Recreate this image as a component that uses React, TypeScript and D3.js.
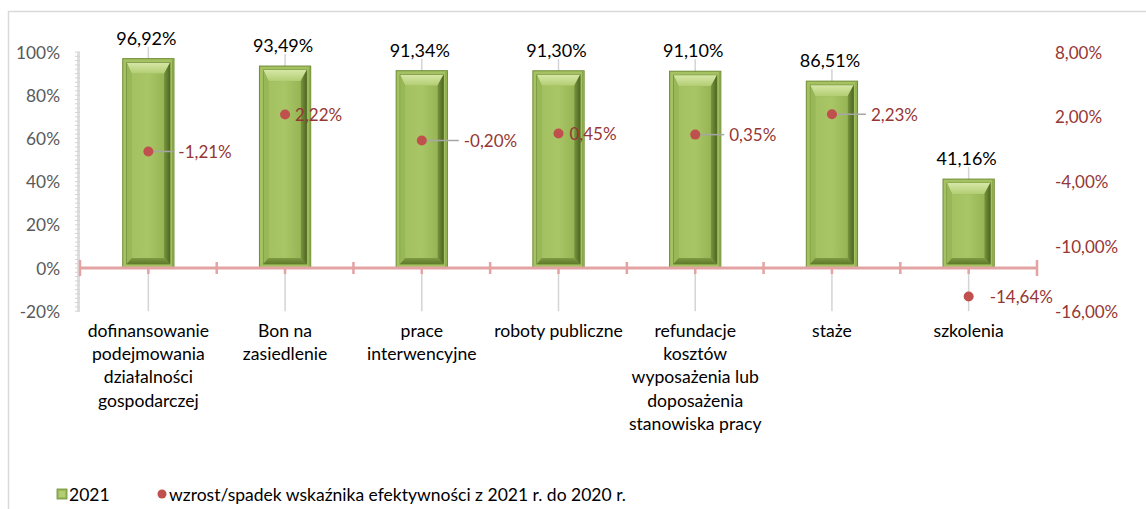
import React from "react";
import * as d3 from "d3";

const categories = [
  "dofinansowanie\npodejmowania\ndziałalności\ngospodarczej",
  "Bon na\nzasiedlenie",
  "prace\ninterwencyjne",
  "roboty publiczne",
  "refundacje\nkosztów\nwyposażenia lub\ndoposażenia\nstanowiska pracy",
  "staże",
  "szkolenia",
];
const values2021 = [96.92, 93.49, 91.34, 91.3, 91.1, 86.51, 41.16];
const changeValues = [-1.21, 2.22, -0.2, 0.45, 0.35, 2.23, -14.64];
const leftTicks = [-20, 0, 20, 40, 60, 80, 100];
const rightTicks = [-16, -10, -4, 2, 8];
const legendBar = "2021";
const legendDot = "wzrost/spadek wskaźnika efektywności z 2021 r. do 2020 r.";
// label offsets (layout) for the change-point labels
const pointLabelDx = [30, 10, 42, 11, 34, 39, 21];
const pointLeader = [true, false, true, false, true, true, false];

const W = 1146;
const H = 509;
const FONT = "Lato, 'Open Sans', sans-serif";

const fmtPct = (v: number, digits: number) =>
  v.toFixed(digits).replace(".", ",") + "%";

export default function App() {
  const x = d3.scaleBand<string>().domain(categories).range([80, 1037]).padding(0);
  const yL = d3.scaleLinear().domain([-20, 100]).range([311.2, 52]);
  const yR = d3.scaleLinear().domain([-16, 8]).range([311.2, 52]);
  const bw = x.bandwidth();
  const barW = bw * 0.375;
  const y0 = yL(0);

  const minorTicks = d3.range(-20, 100.01, 2);

  return (
    <svg width={W} height={H} style={{ position: "absolute", left: 0, top: 0, fontFamily: FONT }}>
      <defs>
        <linearGradient id="face" x1="0" x2="1" y1="0" y2="0">
          <stop offset="0" stopColor="#a3c160" />
          <stop offset="0.5" stopColor="#a8c665" />
          <stop offset="1" stopColor="#97b555" />
        </linearGradient>
        <linearGradient id="topBevel" x1="0" x2="0" y1="0" y2="1">
          <stop offset="0" stopColor="#d6e7a6" />
          <stop offset="1" stopColor="#b2cd72" />
        </linearGradient>
        <linearGradient id="botBevel" x1="0" x2="0" y1="0" y2="1">
          <stop offset="0" stopColor="#7f9a42" />
          <stop offset="1" stopColor="#5f7a2a" />
        </linearGradient>
        <linearGradient id="rightBevel" x1="0" x2="1" y1="0" y2="0">
          <stop offset="0" stopColor="#7a963f" />
          <stop offset="1" stopColor="#4e6622" />
        </linearGradient>
      </defs>
      <rect x={0} y={0} width={W} height={H} fill="#fff" />
      <rect x={8.5} y={11.5} width={W} height={H} fill="none" stroke="#d9d9d9" strokeWidth={1.5} />

      {/* left axis */}
      <line x1={78.5} x2={78.5} y1={yL(100)} y2={yL(-20)} stroke="#dedede" strokeWidth={3} />
      {minorTicks.map((t) => (
        <line key={"m" + t} x1={75} x2={80} y1={yL(t)} y2={yL(t)} stroke="#d4d4d4" strokeWidth={1} />
      ))}
      {leftTicks.map((t) => (
        <text key={"l" + t} x={60} y={yL(t)} textAnchor="end" dominantBaseline="central" fontSize={17.3} fill="#595959">
          {t + "%"}
        </text>
      ))}
      {rightTicks.map((t) => (
        <text key={"r" + t} x={1055} y={yR(t)} textAnchor="start" dominantBaseline="central" fontSize={17} fill="#953735">
          {fmtPct(t, 2)}
        </text>
      ))}

      {/* gray vertical lines */}
      {categories.map((c, i) => {
        const cx = (x(c) as number) + bw / 2;
        return (
          <line key={"g" + i} x1={cx} x2={cx} y1={yL(values2021[i]) - 12} y2={yL(-20)} stroke="#d4d4d4" strokeWidth={1.5} />
        );
      })}

      {/* bars */}
      {categories.map((c, i) => {
        const cx = (x(c) as number) + bw / 2;
        const bx = cx - barW / 2;
        const by = yL(values2021[i]);
        const bh = y0 - by;
        const o = 4; // rim
        const ix0 = bx + o, ix1 = bx + barW - o, iy0 = by + o, iy1 = by + bh - o;
        const fx0 = ix0 + 5, fx1 = ix1 - 6, fy0 = iy0 + 11, fy1 = iy1 - 6;
        const poly = (pts: number[][]) => pts.map((p) => p.join(",")).join(" ");
        return (
          <g key={"b" + i}>
            <rect x={bx} y={by} width={barW} height={bh} fill="#a4c262" stroke="#6f8b33" strokeWidth={1} />
            <rect x={ix0} y={iy0} width={ix1 - ix0} height={iy1 - iy0} fill="#8fae4e" stroke="#5f7a2a" strokeWidth={0.8} />
            <polygon points={poly([[ix0, iy0], [ix1, iy0], [fx1, fy0], [fx0, fy0]])} fill="url(#topBevel)" />
            <polygon points={poly([[ix0, iy0], [fx0, fy0], [fx0, fy1], [ix0, iy1]])} fill="#98b756" />
            <polygon points={poly([[ix1, iy0], [ix1, iy1], [fx1, fy1], [fx1, fy0]])} fill="url(#rightBevel)" />
            <polygon points={poly([[ix0, iy1], [fx0, fy1], [fx1, fy1], [ix1, iy1]])} fill="url(#botBevel)" />
            <rect x={fx0} y={fy0} width={fx1 - fx0} height={fy1 - fy0} fill="url(#face)" />
            <line x1={bx + barW - 1.5} x2={bx + barW - 1.5} y1={by + 1} y2={by + bh - 1} stroke="#86a345" strokeWidth={1} />
            <text x={cx - 2} y={by - 21} textAnchor="middle" dominantBaseline="central" fontSize={18} fill="#000">
              {fmtPct(values2021[i], 2)}
            </text>
          </g>
        );
      })}

      {/* x axis */}
      <line x1={80} x2={1037} y1={y0} y2={y0} stroke="#e4a3a3" strokeWidth={3} />
      {d3.range(categories.length + 1).map((k) => {
        const xx = 80 + k * bw;
        const end = k === 0 || k === categories.length;
        return (
          <line key={"bt" + k} x1={xx} x2={xx} y1={y0 - (end ? 8 : 6)} y2={y0 + (end ? 8 : 6)} stroke="#e4a3a3" strokeWidth={2.5} />
        );
      })}
      {categories.map((c, i) => {
        const cx = (x(c) as number) + bw / 2;
        return <line key={"ct" + i} x1={cx} x2={cx} y1={y0} y2={y0 + 6} stroke="#e4a3a3" strokeWidth={2.5} />;
      })}

      {/* category labels */}
      {categories.map((c, i) => {
        const cx = (x(c) as number) + bw / 2;
        return (
          <text key={"cl" + i} textAnchor="middle" fontSize={17.6} fill="#000">
            {c.split("\n").map((ln, j) => (
              <tspan key={j} x={cx} y={330 + j * 23.4} dominantBaseline="central">
                {ln}
              </tspan>
            ))}
          </text>
        );
      })}

      {/* change points */}
      {categories.map((c, i) => {
        const cx = (x(c) as number) + bw / 2;
        const cy = yR(changeValues[i]);
        const dx = pointLabelDx[i];
        return (
          <g key={"p" + i}>
            {pointLeader[i] && (
              <line x1={cx} x2={cx + dx - 5} y1={cy} y2={cy} stroke="#a6a6a6" strokeWidth={1.5} />
            )}
            <circle cx={cx} cy={cy} r={5} fill="#c0504d" />
            <text x={cx + dx} y={cy} dominantBaseline="central" fontSize={17} fill="#953735">
              {fmtPct(changeValues[i], 2)}
            </text>
          </g>
        );
      })}

      {/* legend */}
      <rect x={57} y={489} width={10} height={10} fill="#9bbb59" stroke="#6f8b33" strokeWidth={0.8} />
      <rect x={59} y={491} width={6} height={6} fill="#b2cd72" />
      <text x={69} y={494} dominantBaseline="central" fontSize={17.5} fill="#000">
        {legendBar}
      </text>
      <circle cx={162} cy={494} r={4.5} fill="#c0504d" />
      <text x={169} y={494} dominantBaseline="central" fontSize={17.5} fill="#000">
        {legendDot}
      </text>
    </svg>
  );
}
